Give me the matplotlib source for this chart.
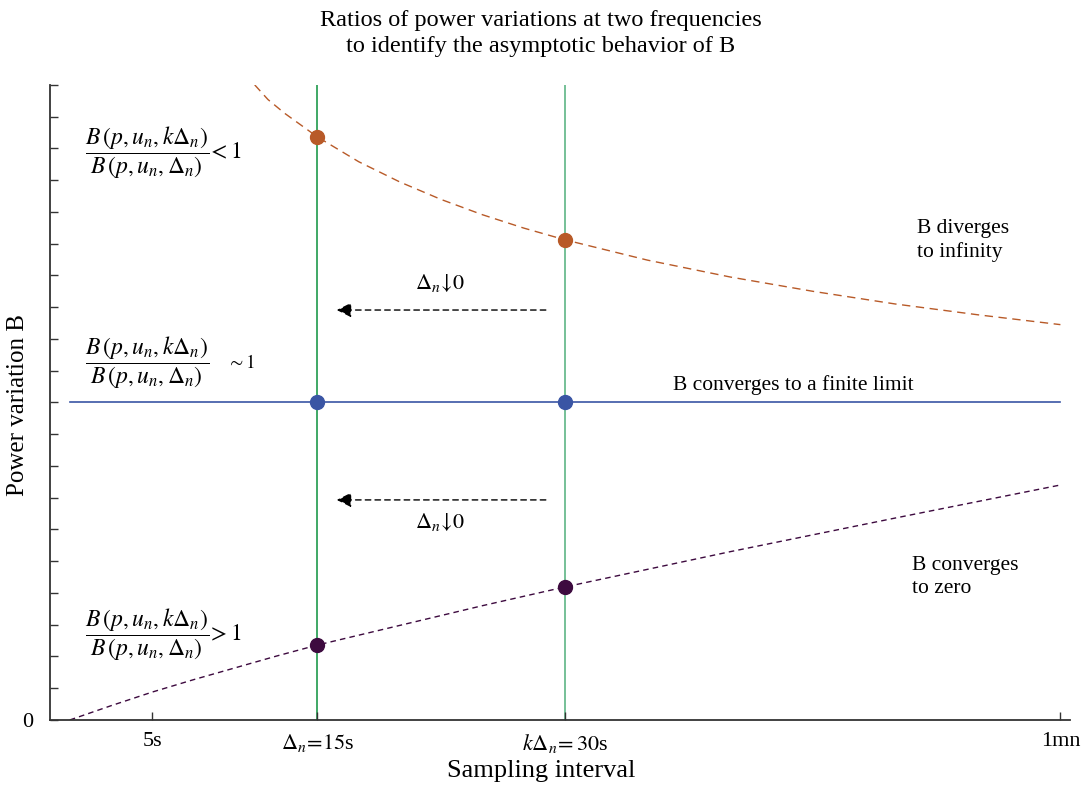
"""
Ratios of power variations at two sampling frequencies.
"""

import matplotlib.pyplot as plt

plt.rcParams["font.family"] = ["Liberation Serif", "DejaVu Serif"]
plt.rcParams["mathtext.fontset"] = "stix"

# %% Data
x_div = [11.2, 12, 13, 15, 17.5, 20, 22.5, 25, 27.5, 30, 35, 40, 45, 50, 55, 60]
y_div = [20.0, 19.54, 19.11, 18.36, 17.58, 16.94, 16.39, 15.91, 15.49,
         15.12, 14.48, 13.95, 13.50, 13.10, 12.76, 12.45]

x_zero = [0, 1, 2.5, 5, 7.5, 10, 12.5, 15, 20, 25, 30, 40, 50, 60]
y_zero = [0, 0.18, 0.45, 0.88, 1.27, 1.64, 2.01, 2.36, 2.98, 3.6, 4.19,
          5.3, 6.36, 7.40]

x_lim = [0, 60]
y_lim = [10, 10]

dn = 15      # Delta_n
kdn = 30     # k * Delta_n
pts_div = [18.36, 15.12]
pts_lim = [10, 10]
pts_zero = [2.36, 4.19]

xticks = [5, 15, 30, 60]
xtick_labels = ["5s", r"$\Delta_n\!=\!15$s", r"$k\Delta_n\!=30$s", "1mn"]

c_div = "#b85a28"
c_lim = "#3a55a4"
c_zero = "#3d0a3f"

# %% Figure
fig = plt.figure(figsize=(10.82, 7.86), dpi=100)
ax = fig.add_axes([0.0462, 0.084, 0.943, 0.808])

ax.plot([dn, dn], [0, 20], color="#1f9a4c", lw=1.2, zorder=1)
ax.plot([kdn, kdn], [0, 20], color="#5db585", lw=1.2, zorder=1)

ax.plot(x_div, y_div, color=c_div, lw=1.0, dashes=(6, 4), zorder=2)
ax.plot(x_lim, y_lim, color=c_lim, lw=1.2, zorder=2)
ax.plot(x_zero, y_zero, color=c_zero, lw=1.0, dashes=(4, 3), zorder=2)

ax.plot([dn, kdn], pts_div, "o", color=c_div, ms=10, zorder=3)
ax.plot([dn, kdn], pts_lim, "o", color=c_lim, ms=10, zorder=3)
ax.plot([dn, kdn], pts_zero, "o", color=c_zero, ms=10, zorder=3)

# arrows for Delta_n -> 0
for ya, yt in [(12.91, 13.75), (6.93, 6.25)]:
    ax.annotate("", xy=(16.0, ya), xytext=(29.0, ya),
                arrowprops=dict(arrowstyle="-|>", color="black", lw=1.0,
                                linestyle=(0, (4, 3)), mutation_scale=22))
    ax.text(22.4, yt, r"$\Delta_n\!\downarrow\!0$", fontsize=16,
            ha="center", va="center")

frac = r"$\dfrac{B\,(p,u_n,k\Delta_n)}{B\,(p,u_n,\Delta_n)}$"
ax.text(0.9, 17.85, frac, fontsize=17, ha="left", va="center")
ax.text(8.3, 17.85, r"$<1$", fontsize=17, ha="left", va="center")
ax.text(0.9, 11.24, frac, fontsize=17, ha="left", va="center")
ax.text(9.5, 11.24, r"$\sim 1$", fontsize=14, ha="left", va="center")
ax.text(0.9, 2.67, frac, fontsize=17, ha="left", va="center")
ax.text(8.3, 2.67, r"$>1$", fontsize=17, ha="left", va="center")

ax.text(51.3, 15.1, "B diverges\nto infinity", fontsize=15.5,
        ha="left", va="center", linespacing=1.3)
ax.text(43.8, 10.55, "B converges to a finite limit", fontsize=15.5,
        ha="center", va="center")
ax.text(51.0, 4.5, "B converges\nto zero", fontsize=15.5,
        ha="left", va="center", linespacing=1.3)

ax.set_xlim(-1.2, 60.6)
ax.set_ylim(0, 20)
ax.set_xticks(xticks)
ax.set_xticklabels(xtick_labels, fontsize=16)
ax.set_yticks(range(0, 21))
ax.set_yticklabels(["0"] + [""] * 20, fontsize=16)
ax.tick_params(direction="in", length=6, width=1, color="#333333")
ax.tick_params(axis="x", pad=9)
ax.tick_params(axis="y", pad=12)
ax.spines["top"].set_visible(False)
ax.spines["right"].set_visible(False)
for s in ["left", "bottom"]:
    ax.spines[s].set_linewidth(1.3)
    ax.spines[s].set_color("#333333")

# axis labels and title placed in figure coordinates
fig.text(0.5, 1 - 771 / 786, "Sampling interval", fontsize=19,
         ha="center", va="center")
fig.text(18 / 1082, 1 - 405 / 786, "Power variation B", fontsize=18,
         ha="center", va="center", rotation=90)
fig.text(0.5, 1 - 33.5 / 786,
         "Ratios of power variations at two frequencies\n"
         "to identify the asymptotic behavior of B",
         fontsize=17.5, ha="center", va="center", linespacing=1.3)

plt.savefig("out.png", dpi=100)
